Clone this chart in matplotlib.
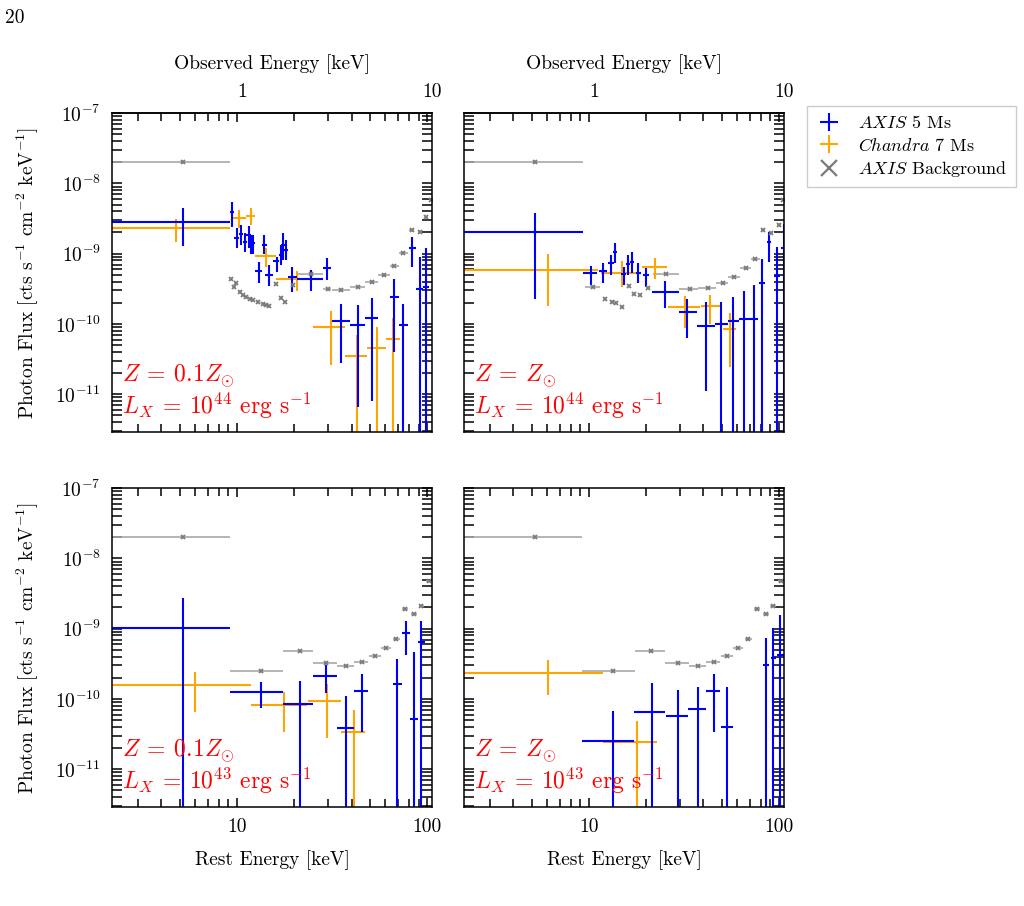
import numpy as np
import matplotlib
matplotlib.use('Agg')
import matplotlib.pyplot as plt
from matplotlib.ticker import FuncFormatter, NullFormatter, FixedLocator, NullLocator
from matplotlib.lines import Line2D

plt.rcParams['font.family'] = 'serif'
plt.rcParams['font.serif'] = ['cmr10']
plt.rcParams['mathtext.fontset'] = 'cm'
plt.rcParams['axes.formatter.use_mathtext'] = True

z_src = 9.6
xlim = (2.2, 106)
ylim = (2.9e-12, 1e-7)
low = 1e-13  # lower error bar that runs off the axis

# (E, E_lo, E_hi, flux, flux_lo, flux_hi), rest-frame keV
tl_axis = [
    (5.18, 2.0, 9.19, 2.84e-9, 1.28e-9, 4.4e-9),
    (9.38, 9.15, 9.6, 3.9e-9, 2.4e-9, 5.4e-9),
    (9.96, 9.69, 10.24, 1.68e-9, 1.21e-9, 2.29e-9),
    (10.5, 10.22, 10.8, 1.88e-9, 1.33e-9, 2.55e-9),
    (11.0, 10.7, 11.3, 1.48e-9, 1.06e-9, 1.95e-9),
    (11.5, 11.2, 11.8, 1.84e-9, 1.19e-9, 2.50e-9),
    (11.9, 11.6, 12.2, 1.40e-9, 9.8e-10, 1.84e-9),
    (12.2, 11.9, 12.5, 1.40e-9, 9.8e-10, 1.84e-9),
    (13.1, 12.4, 13.6, 5.66e-10, 3.77e-10, 7.67e-10),
    (13.9, 13.5, 14.3, 1.33e-9, 9.8e-10, 1.84e-9),
    (14.7, 14.0, 15.5, 4.97e-10, 3.49e-10, 6.89e-10),
    (16.2, 15.5, 16.6, 7.85e-10, 5.53e-10, 9.04e-10),
    (17.0, 16.6, 17.4, 9.55e-10, 6.89e-10, 1.33e-9),
    (17.5, 17.1, 17.9, 1.33e-9, 8.11e-10, 1.95e-9),
    (18.1, 17.7, 18.5, 1.12e-9, 8.11e-10, 1.56e-9),
    (19.4, 18.5, 20.6, 4.70e-10, 2.87e-10, 6.52e-10),
    (24.5, 20.6, 28.4, 4.31e-10, 2.94e-10, 5.85e-10),
    (29.6, 28.4, 31.2, 6.31e-10, 4.22e-10, 8.57e-10),
    (35.2, 31.5, 39.3, 1.11e-10, 2.81e-11, 1.92e-10),
    (43.2, 39.3, 47.2, 9.64e-11, 6.52e-12, 1.86e-10),
    (51.2, 47.2, 55.2, 1.20e-10, 8.1e-12, 2.31e-10),
    (67.0, 63.4, 71.1, 2.39e-10, 3.95e-11, 4.35e-10),
    (75.0, 71.1, 79.6, 9.64e-11, low, 1.92e-10),
    (83.0, 80.3, 87.7, 1.21e-9, 6.52e-10, 1.74e-9),
    (91.2, 87.7, 94.8, 3.10e-10, low, 8.85e-10),
    (98.9, 94.8, 102.7, 3.32e-10, low, 1.21e-9),
]
tl_chandra = [
    (4.77, 2.0, 9.19, 2.29e-9, 1.48e-9, 3.08e-9),
    (10.2, 9.45, 11.1, 3.18e-9, 2.29e-9, 4.17e-9),
    (11.9, 11.1, 12.5, 3.46e-9, 2.55e-9, 4.40e-9),
    (14.2, 12.5, 16.0, 9.33e-10, 6.52e-10, 1.21e-9),
    (20.6, 16.0, 24.9, 4.31e-10, 2.94e-10, 5.66e-10),
    (31.1, 25.2, 37.0, 8.95e-11, 2.60e-11, 1.52e-10),
    (42.7, 37.0, 48.3, 3.53e-11, low, 6.95e-11),
    (54.3, 48.3, 60.7, 4.59e-11, low, 9.12e-11),
    (65.9, 60.7, 71.9, 6.04e-11, low, 1.20e-10),
]
# (E, E_lo, E_hi, flux)
tl_bkg = [
    (5.2, 2.0, 9.19, 2.03e-8),
    (9.3, 9.3, 9.3, 4.4e-10), (9.6, 9.6, 9.6, 3.4e-10), (9.9, 9.9, 9.9, 3.8e-10),
    (10.4, 10.4, 10.4, 2.87e-10), (10.8, 10.8, 10.8, 2.58e-10),
    (11.2, 11.2, 11.2, 2.44e-10), (11.7, 11.7, 11.7, 2.26e-10),
    (12.2, 12.2, 12.2, 2.19e-10), (12.9, 12.9, 12.9, 2.03e-10),
    (13.7, 13.7, 13.7, 1.92e-10), (14.2, 14.2, 14.2, 1.86e-10),
    (14.7, 14.7, 14.7, 1.82e-10), (16.0, 16.0, 16.0, 3.65e-10),
    (17.0, 17.0, 17.0, 2.31e-10), (17.9, 17.9, 17.9, 2.03e-10),
    (19.6, 19.6, 19.6, 3.57e-10),
    (24.5, 20.6, 28.4, 5.13e-10), (29.9, 28.4, 31.2, 3.14e-10),
    (35.2, 31.5, 39.3, 3.03e-10), (43.2, 39.3, 47.2, 3.32e-10),
    (51.2, 47.2, 55.2, 3.98e-10), (59.4, 55.2, 63.4, 4.97e-10),
    (67.0, 63.4, 71.1, 6.67e-10), (75.0, 71.1, 79.6, 1.03e-9),
    (83.0, 80.3, 85.0, 2.17e-9), (91.2, 89.0, 93.5, 2.05e-9),
    (98.9, 97.0, 101.0, 3.28e-9), (105.0, 104.0, 106.0, 5.8e-9),
]

tr_axis = [
    (5.20, 2.0, 9.25, 2.01e-9, 2.24e-10, 3.74e-9),
    (10.2, 9.3, 11.0, 5.24e-10, 3.57e-10, 6.67e-10),
    (11.9, 11.3, 12.5, 5.71e-10, 3.85e-10, 7.43e-10),
    (13.1, 12.6, 13.5, 7.26e-10, 4.97e-10, 9.55e-10),
    (13.7, 13.4, 14.0, 1.06e-9, 7.43e-10, 1.43e-9),
    (15.3, 14.8, 15.7, 5.13e-10, 3.57e-10, 6.52e-10),
    (16.0, 15.6, 16.4, 7.11e-10, 4.97e-10, 9.55e-10),
    (16.8, 16.4, 17.2, 7.67e-10, 5.24e-10, 1.06e-9),
    (18.2, 17.7, 18.7, 5.24e-10, 3.77e-10, 7.26e-10),
    (20.0, 19.3, 20.8, 4.97e-10, 3.38e-10, 6.18e-10),
    (25.1, 21.5, 29.6, 2.87e-10, 1.67e-10, 4.07e-10),
    (32.9, 29.6, 36.9, 1.50e-10, 6.37e-11, 2.26e-10),
    (41.1, 36.9, 46.1, 9.44e-11, 1.12e-11, 2.03e-10),
    (49.4, 46.1, 53.5, 9.98e-11, low, 2.03e-10),
    (57.5, 53.5, 61.3, 1.10e-10, low, 2.44e-10),
    (65.2, 61.3, 69.3, 1.17e-10, low, 2.94e-10),
    (73.3, 69.3, 77.5, 1.17e-10, low, 3.57e-10),
    (81.1, 78.5, 84.5, 3.85e-10, low, 8.30e-10),
    (88.5, 86.5, 90.5, 1.48e-9, 7.67e-10, 2.05e-9),
    (97.3, 94.5, 100.5, 4.80e-10, low, 1.25e-9),
    (105.5, 102.5, 108.0, 1.21e-9, low, 2.64e-9),
]
tr_chandra = [
    (6.06, 2.0, 11.2, 5.85e-10, 1.80e-10, 9.87e-10),
    (14.9, 11.5, 18.0, 5.24e-10, 3.38e-10, 7.92e-10),
    (22.2, 19.0, 25.8, 6.38e-10, 4.31e-10, 8.57e-10),
    (31.8, 26.1, 38.3, 1.72e-10, 8.65e-11, 2.52e-10),
    (43.3, 38.6, 49.4, 1.80e-10, 9.98e-11, 2.58e-10),
    (55.3, 50.6, 59.6, 8.37e-11, 2.46e-11, 1.42e-10),
]
tr_bkg = [
    (5.2, 2.0, 9.25, 2.02e-8),
    (10.5, 9.56, 11.4, 3.32e-10), (12.1, 12.1, 12.1, 2.24e-10),
    (13.2, 13.2, 13.2, 2.07e-10), (13.9, 13.9, 13.9, 1.96e-10),
    (14.9, 14.9, 14.9, 1.76e-10), (16.3, 16.3, 16.3, 3.46e-10),
    (17.3, 17.3, 17.3, 2.64e-10), (18.6, 18.6, 18.6, 2.58e-10),
    (20.4, 20.4, 20.4, 3.21e-10),
    (25.5, 21.6, 29.9, 5.13e-10), (33.9, 29.9, 37.5, 3.10e-10),
    (42.1, 37.5, 46.5, 3.21e-10), (50.6, 46.5, 54.0, 3.77e-10),
    (57.8, 54.0, 62.0, 4.70e-10), (66.9, 62.5, 71.0, 6.31e-10),
    (75.0, 71.0, 79.0, 8.38e-10), (82.1, 80.0, 84.0, 2.17e-9),
    (90.5, 88.5, 92.5, 1.95e-9), (99.7, 97.5, 102.0, 2.55e-9),
    (105.0, 104.0, 106.0, 5.8e-9),
]

bl_axis = [
    (5.18, 2.0, 9.19, 1.01e-9, low, 2.75e-9),
    (13.3, 9.19, 17.4, 1.25e-10, 7.50e-11, 1.72e-10),
    (21.3, 17.4, 25.2, 8.37e-11, low, 1.82e-10),
    (29.4, 25.2, 33.5, 2.12e-10, 1.20e-10, 3.03e-10),
    (37.5, 33.5, 41.2, 3.82e-11, low, 1.11e-10),
    (45.3, 41.2, 48.9, 1.29e-10, 3.35e-11, 2.24e-10),
    (69.2, 66.1, 73.9, 1.61e-10, low, 3.70e-10),
    (77.4, 73.9, 81.0, 8.75e-10, 4.21e-10, 1.30e-9),
    (85.5, 81.0, 89.0, 5.22e-11, low, 4.69e-10),
    (92.9, 89.0, 97.0, 6.38e-10, low, 1.30e-9),
]
bl_chandra = [
    (6.01, 2.0, 11.9, 1.58e-10, 6.58e-11, 2.44e-10),
    (17.7, 11.9, 23.3, 8.18e-11, 3.41e-11, 1.26e-10),
    (29.7, 23.7, 35.1, 9.33e-11, 2.75e-11, 1.61e-10),
    (41.2, 35.1, 47.2, 3.41e-11, low, 6.95e-11),
]
# the two lower panels share the same background binning
bottom_bkg = [
    (5.2, 2.0, 9.19, 1.99e-8),
    (13.3, 9.19, 17.4, 2.49e-10), (21.3, 17.4, 25.2, 4.80e-10),
    (29.4, 25.2, 33.5, 3.21e-10), (37.5, 33.5, 41.2, 2.97e-10),
    (45.3, 41.2, 48.9, 3.38e-10), (53.2, 49.5, 57.0, 4.07e-10),
    (60.7, 57.0, 64.5, 5.35e-10), (68.9, 66.0, 72.0, 7.11e-10),
    (76.8, 74.0, 79.5, 1.90e-9), (84.9, 82.0, 88.0, 1.62e-9),
    (92.9, 90.0, 96.0, 2.09e-9), (101.8, 99.0, 104.5, 4.75e-9),
]

br_axis = [
    (13.3, 9.2, 17.3, 2.52e-11, low, 6.73e-11),
    (21.4, 17.3, 25.1, 6.58e-11, low, 1.67e-10),
    (29.5, 25.5, 33.3, 5.77e-11, low, 1.34e-10),
    (37.4, 33.3, 41.2, 7.11e-11, low, 1.49e-10),
    (45.2, 41.2, 48.9, 1.29e-10, 3.35e-11, 2.24e-10),
    (53.4, 49.5, 57.0, 4.03e-11, low, 1.49e-10),
    (85.2, 82.5, 88.0, 3.03e-10, low, 7.43e-10),
    (93.3, 90.5, 96.0, 3.77e-10, low, 1.01e-9),
    (101.3, 98.0, 105.5, 4.21e-10, low, 1.56e-9),
]
br_chandra = [
    (6.06, 2.0, 11.9, 2.36e-10, 1.13e-10, 3.57e-10),
    (17.8, 11.9, 22.8, 2.46e-11, low, 4.90e-11),
]

notes = [
    '$Z\\:=\\:0.1Z_{\\odot}$\n$L_X\\:=\\:10^{44}$ erg s$^{-1}$',
    '$Z\\:=\\:Z_{\\odot}$\n$L_X\\:=\\:10^{44}$ erg s$^{-1}$',
    '$Z\\:=\\:0.1Z_{\\odot}$\n$L_X\\:=\\:10^{43}$ erg s$^{-1}$',
    '$Z\\:=\\:Z_{\\odot}$\n$L_X\\:=\\:10^{43}$ erg s$^{-1}$',
]

y_minor = [m * 10.0 ** k for k in range(-12, -7) for m in range(2, 10)]


def draw_data(ax, pts, color):
    e, elo, ehi, f, flo, fhi = np.array(pts).T
    return ax.errorbar(e, f, xerr=[e - elo, ehi - e], yerr=[f - flo, fhi - f],
                       fmt='none', ecolor=color, elinewidth=1.5)


def draw_bkg(ax, pts):
    e, elo, ehi, f = np.array(pts).T
    ax.errorbar(e, f, xerr=[e - elo, ehi - e], fmt='x', ms=3.5, mew=1.3,
                color='#7a7a7a', ecolor='#a8a8a8', elinewidth=1.2)


def setup(ax, left, bottom, top):
    ax.set_xscale('log')
    ax.set_yscale('log')
    ax.set_xlim(*xlim)
    ax.set_ylim(*ylim)
    ax.yaxis.set_major_locator(FixedLocator([1e-11, 1e-10, 1e-9, 1e-8, 1e-7]))
    ax.yaxis.set_minor_locator(FixedLocator(y_minor))
    ax.yaxis.set_minor_formatter(NullFormatter())
    ax.xaxis.set_major_formatter(FuncFormatter(lambda v, p: f'{v:g}'))
    ax.xaxis.set_minor_formatter(NullFormatter())
    ax.tick_params(which='both', direction='in', top=True, right=True,
                   labelsize=14, pad=8, width=1.1)
    ax.tick_params(axis='y', which='both', length=7)
    ax.tick_params(axis='x', which='major', length=6.5)
    ax.tick_params(axis='x', which='minor', length=5.5)
    for s in ax.spines.values():
        s.set_linewidth(1.1)
    if left:
        ax.set_ylabel('Photon Flux [cts s$^{-1}$ cm$^{-2}$ keV$^{-1}$]', fontsize=14,
                      labelpad=10)
    else:
        ax.tick_params(labelleft=False)
    if bottom:
        ax.set_xlabel('Rest Energy [keV]', fontsize=14, labelpad=10)
    else:
        ax.tick_params(labelbottom=False)
    if top:
        sec = ax.secondary_xaxis('top', functions=(lambda x: x / (1 + z_src),
                                                   lambda x: x * (1 + z_src)))
        sec.xaxis.set_major_locator(FixedLocator([1, 10]))
        sec.xaxis.set_minor_locator(NullLocator())
        sec.xaxis.set_major_formatter(FuncFormatter(lambda v, p: f'{v:g}'))
        sec.tick_params(length=0, labelsize=14, pad=9)
        sec.spines['top'].set_linewidth(1.1)
        sec.set_xlabel('Observed Energy [keV]', fontsize=14, labelpad=10)


fig = plt.figure(figsize=(10.24, 9.06), dpi=100)
w, h = 0.3125, 0.352
ax_tl = fig.add_axes([0.1094, 0.5232, w, h])
ax_tr = fig.add_axes([0.4531, 0.5232, w, h])
ax_bl = fig.add_axes([0.1094, 0.1093, w, h])
ax_br = fig.add_axes([0.4531, 0.1093, w, h])

panels = [
    (ax_tl, tl_axis, tl_chandra, tl_bkg, True, False, True),
    (ax_tr, tr_axis, tr_chandra, tr_bkg, False, False, True),
    (ax_bl, bl_axis, bl_chandra, bottom_bkg, True, True, False),
    (ax_br, br_axis, br_chandra, bottom_bkg, False, True, False),
]

for (ax, d_axis, d_chan, d_bkg, left, bottom, top), note in zip(panels, notes):
    draw_bkg(ax, d_bkg)
    h_chan = draw_data(ax, d_chan, 'orange')
    h_axis = draw_data(ax, d_axis, 'blue')
    setup(ax, left, bottom, top)
    ax.text(0.03, 0.035, note, transform=ax.transAxes, color='red',
            fontsize=17, va='bottom', ha='left', linespacing=1.05)
    if ax is ax_tl:
        handles = [h_axis, h_chan]

bkg_handle = Line2D([], [], ls='none', marker='x', ms=11, mew=1.6, color='#7a7a7a')
leg = fig.legend(handles + [bkg_handle],
                 ['$\\mathit{AXIS}$ 5 Ms', '$\\mathit{Chandra}$ 7 Ms',
                  '$\\mathit{AXIS}$ Background'],
                 loc='upper left', bbox_to_anchor=(0.779, 0.893), fontsize=13,
                 fancybox=False, framealpha=1, edgecolor='#cccccc',
                 handlelength=1.6, borderpad=0.45, labelspacing=0.3)

fig.text(0.005, 0.99, '20', fontsize=14, va='top', ha='left')

fig.savefig('out.png', dpi=100)
